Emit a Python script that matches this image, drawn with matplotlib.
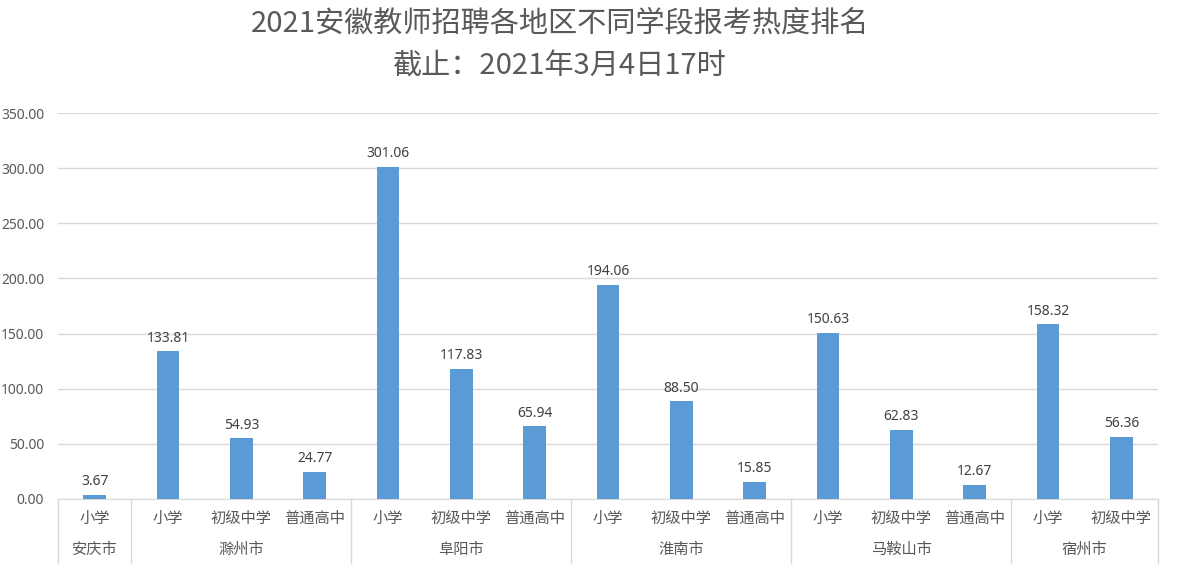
import numpy as np
import matplotlib.pyplot as plt
import matplotlib.transforms as mtransforms

plt.rcParams['font.family'] = ['Noto Sans CJK SC', 'DejaVu Sans']

# data
cities = ['安庆市', '滁州市', '阜阳市', '淮南市', '马鞍山市', '宿州市']
levels = [['小学'],
          ['小学', '初级中学', '普通高中'],
          ['小学', '初级中学', '普通高中'],
          ['小学', '初级中学', '普通高中'],
          ['小学', '初级中学', '普通高中'],
          ['小学', '初级中学']]
values = [[3.67],
          [133.81, 54.93, 24.77],
          [301.06, 117.83, 65.94],
          [194.06, 88.50, 15.85],
          [150.63, 62.83, 12.67],
          [158.32, 56.36]]

bar_color = '#5b9bd5'
grid_color = '#d9d9d9'
text_color = '#595959'
num_font = ['Noto Sans', 'DejaVu Sans']

fig = plt.figure(figsize=(11.82, 5.70), dpi=100)
ax = fig.add_axes([58 / 1182, 71 / 570, 1100 / 1182, 386 / 570])

flat_vals = [v for grp in values for v in grp]
flat_lvls = [l for grp in levels for l in grp]
x = np.arange(len(flat_vals))

ax.bar(x, flat_vals, width=0.31, color=bar_color, zorder=3)
for xi, v in zip(x, flat_vals):
    ax.annotate('%.2f' % v, (xi, v), xytext=(0, 4), textcoords='offset points',
                ha='center', va='bottom', fontsize=10, color='#404040',
                family=num_font)

ax.set_xlim(-0.5, len(flat_vals) - 0.5)
ax.set_ylim(0, 350)
yt = np.arange(0, 351, 50)
ax.set_yticks(yt)
ax.set_yticklabels(['%.2f' % t for t in yt], family=num_font)
ax.tick_params(axis='y', length=0, pad=10, labelsize=10, labelcolor=text_color)
ax.set_xticks([])
ax.grid(axis='y', color=grid_color, linewidth=1, zorder=0)
for s in ['top', 'right', 'left']:
    ax.spines[s].set_visible(False)
ax.spines['bottom'].set_color(grid_color)

# two-level category axis
trans = mtransforms.blended_transform_factory(ax.transData, ax.transAxes)
for xi, lab in zip(x, flat_lvls):
    ax.text(xi, -0.05, lab, transform=trans, ha='center', va='center',
            fontsize=11, color=text_color)

start = 0
bounds = [-0.5]
for city, grp in zip(cities, values):
    n = len(grp)
    ax.text(start + (n - 1) / 2, -0.13, city, transform=trans, ha='center',
            va='center', fontsize=11, color=text_color)
    start += n
    bounds.append(start - 0.5)
for b in bounds:
    ax.plot([b, b], [0, -0.165], transform=trans, color=grid_color,
            linewidth=1, clip_on=False)

fig.text(0.474, 0.958, '2021安徽教师招聘各地区不同学段报考热度排名',
         ha='center', va='center', fontsize=21, color=text_color)
fig.text(0.474, 0.884, '截止：2021年3月4日17时',
         ha='center', va='center', fontsize=21, color=text_color)

fig.savefig('out.png', dpi=100)
